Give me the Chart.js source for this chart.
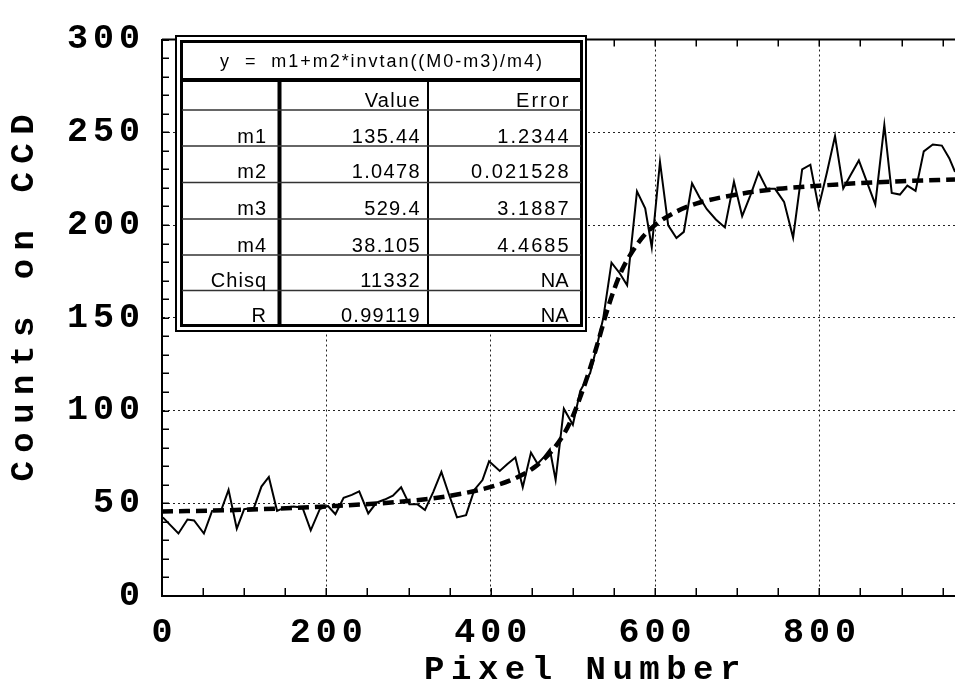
<!DOCTYPE html>
<html>
<head>
<meta charset="utf-8">
<script src="https://cdn.jsdelivr.net/npm/chart.js@4.4.1/dist/chart.umd.min.js"></script>
<style>
html,body{margin:0;padding:0;background:#fff;}
canvas{display:block;}
</style>
</head>
<body>
<canvas id="c" width="955" height="691" style="width:955px;height:691px"></canvas>
<script>
// ---- data ----
const pixelX = [1,20,31,39,51,61,72,81,91,100,112,121,130,140,149,160,171,181,192,202,211,221,231,240,251,261,271,281,291,301,311,320,330,340,349,359,370,380,390,398,411,420,430,439,449,457,465,472,479,489,500,509,521,529,537,547,557,566,578,588,596,606,616,626,635,645,654,663,674,685,696,706,716,726,736,746,757,768,779,789,799,809,819,829,838,848,858,868,879,888,898,907,917,927,938,949,958,965];
const counts = [42.4,33.7,41.2,40.7,33.7,45.9,46.2,57.2,36.3,46.8,47.6,59,64.2,45.9,47.6,48.2,47.6,35.4,46.8,48.5,44.1,52.9,54.5,56.4,44.5,50.3,52,54.1,58.6,49.4,49.4,46.4,56,66.9,55,42.4,43.6,57.2,62.5,72.6,67.4,71,74.7,58.6,77.3,71.3,75,79,62.6,101,92.3,110.6,120.2,134.2,149.9,179.7,174,167.5,218.1,209,188,234,199.8,193,196.3,222.5,215,208.5,203,198.7,223.4,204.8,216,228.3,219.5,219.5,212.5,193.2,230,232.5,209.5,228,247.9,219.7,227,234.8,223,211.1,253.9,217.3,216.4,221.2,218.4,239.7,243.4,242.8,236,228.6];

const fitX = [0,100,200,300,350,400,430,455,475,490,500,510,520,530,540,550,560,570,585,600,625,650,700,750,800,850,900,965];
const fitY = [45.5,46.5,48.3,51.2,54,58.8,63.5,70,78.5,88,97,108.5,121.5,136,151.5,165,176,184,193.5,200,207,211.5,216.5,219.5,221.2,222.6,223.6,224.5];

const xTickValues = [0,200,400,600,800];
const yTickValues = [0,50,100,150,200,250,300];
const xMinorStep = 50;
const yMinorStep = 10;
const xTitle = 'Pixel Number';
const yTitle = 'Counts on CCD';

const fitEquation = 'y  =  m1+m2*invtan((M0-m3)/m4)';
const tableHeader = ['', 'Value', 'Error'];
const paramNames = ['m1','m2','m3','m4','Chisq','R'];
const paramValues = ['135.44','1.0478','529.4','38.105','11332','0.99119'];
const paramErrors = ['1.2344','0.021528','3.1887','4.4685','NA','NA'];

// ---- helpers ----
function patchScale(scale, tickSp, titleSp, off) {
  if (scale._lsPatched) return;
  scale._lsPatched = true;
  const dl = scale.drawLabels, dt = scale.drawTitle;
  scale.drawLabels = function (a) {
    const c = this.ctx; c.save(); c.letterSpacing = tickSp + 'px';
    c.translate(off.lx, off.ly); dl.call(this, a); c.restore();
  };
  scale.drawTitle = function (a) {
    const c = this.ctx; c.save(); c.letterSpacing = titleSp + 'px';
    c.translate(off.tx, off.ty); dt.call(this, a); c.restore();
  };
}

const spacingPlugin = {
  id: 'spacing',
  beforeDraw(chart) {
    patchScale(chart.scales.x, 5, 6.5, {lx: 2.5, ly: 0, tx: 27, ty: 0});
    patchScale(chart.scales.y, 5, 8.5, {lx: 5, ly: 0, tx: 0, ty: -24});
  }
};

function seg(ctx, x1, y1, x2, y2) { ctx.beginPath(); ctx.moveTo(x1, y1); ctx.lineTo(x2, y2); ctx.stroke(); }

const framePlugin = {
  id: 'frame',
  afterDatasetsDraw(chart) {
    const {ctx, chartArea: a, scales: {x, y}} = chart;
    ctx.save();
    ctx.strokeStyle = '#000';
    ctx.lineWidth = 2;
    seg(ctx, a.left, a.top, a.right, a.top);
    ctx.lineWidth = 1.5;
    for (let v = y.min; v <= y.max; v += yMinorStep) {
      const py = Math.round(y.getPixelForValue(v)) + 0.25;
      seg(ctx, a.left, py, a.left + 7, py);
    }
    for (let v = x.min; v <= x.max; v += xMinorStep) {
      const px = Math.round(x.getPixelForValue(v)) + 0.25;
      seg(ctx, px, a.bottom, px, a.bottom - 8);
      seg(ctx, px, a.top, px, a.top + 7);
    }
    ctx.restore();
  }
};

function spacedText(ctx, text, x, y, sp, align) {
  ctx.letterSpacing = sp + 'px';
  ctx.textAlign = align;
  ctx.fillText(text, align === 'right' ? x + sp : x, y);
}

const tablePlugin = {
  id: 'fitTable',
  afterDraw(chart) {
    const ctx = chart.ctx;
    ctx.save();
    ctx.fillStyle = '#fff';
    ctx.fillRect(175, 35, 412, 298);
    ctx.strokeStyle = '#000';
    ctx.lineWidth = 2;
    ctx.strokeRect(176, 36, 410, 295);
    ctx.lineWidth = 3;
    ctx.strokeRect(181.5, 41.5, 400, 284);
    ctx.lineWidth = 4;
    seg(ctx, 181, 80, 582, 80);
    seg(ctx, 279.5, 80, 279.5, 326);
    ctx.lineWidth = 2;
    seg(ctx, 428, 80, 428, 326);
    ctx.strokeStyle = '#333';
    ctx.lineWidth = 1.5;
    [110, 146, 182.5, 219, 255, 290.5].forEach(yy => seg(ctx, 182, yy, 581, yy));

    ctx.fillStyle = '#000';
    ctx.textBaseline = 'alphabetic';
    // equation header fitted between x=220 and x=542
    ctx.font = '18px "Liberation Sans", Arial, sans-serif';
    ctx.letterSpacing = '0px';
    const nat = ctx.measureText(fitEquation).width;
    const hsp = (322 - nat) / (fitEquation.length - 1);
    spacedText(ctx, fitEquation, 220, 67, hsp, 'left');

    ctx.font = '20px "Liberation Sans", Arial, sans-serif';
    const colRight = [266, 419.5, 568.5];
    const colSp = [1, 1.3, 2];
    const baselines = [107.3, 142.7, 178.3, 215, 251.7, 286.7, 322.3];
    tableHeader.forEach((t, i) => { if (t) spacedText(ctx, t, colRight[i], baselines[0], colSp[i], 'right'); });
    paramNames.forEach((n, r) => {
      const b = baselines[r + 1];
      spacedText(ctx, n, colRight[0], b, colSp[0], 'right');
      spacedText(ctx, paramValues[r], colRight[1], b, colSp[1], 'right');
      spacedText(ctx, paramErrors[r], colRight[2], b, paramErrors[r] === 'NA' ? 0 : colSp[2], 'right');
    });
    ctx.restore();
  }
};

const monoBold = (size) => ({family: '"Liberation Mono", "DejaVu Sans Mono", monospace', weight: 'bold', size: size, lineHeight: 1});

new Chart(document.getElementById('c'), {
  type: 'line',
  data: {
    datasets: [
      {
        label: 'fit',
        data: fitX.map((x, i) => ({x: x, y: fitY[i]})),
        borderColor: '#000',
        borderWidth: 4.5,
        borderDash: [11, 6],
        pointRadius: 0,
        cubicInterpolationMode: 'monotone',
        fill: false
      },
      {
        label: 'counts',
        data: pixelX.map((x, i) => ({x: x, y: counts[i]})),
        borderColor: '#000',
        borderWidth: 2,
        pointRadius: 0,
        tension: 0,
        borderJoinStyle: 'miter',
        fill: false
      }
    ]
  },
  options: {
    responsive: false,
    animation: false,
    devicePixelRatio: 1,
    layout: {padding: {top: 24, left: 0, right: 0, bottom: 0}},
    plugins: {legend: {display: false}, tooltip: {enabled: false}},
    scales: {
      x: {
        type: 'linear', min: 0, max: 965,
        afterBuildTicks: s => { s.ticks = xTickValues.map(v => ({value: v})); },
        afterFit: s => { s.height = 95; },
        ticks: {autoSkip: false, maxRotation: 0, padding: 20, color: '#000', font: monoBold(35)},
        grid: {color: c => (c.tick && c.tick.value === 0) ? 'rgba(0,0,0,0)' : '#222', lineWidth: 1, drawTicks: false},
        border: {display: true, color: '#000', width: 2, dash: [2, 3]},
        title: {display: true, text: xTitle, color: '#000', font: monoBold(34), padding: {top: 0, bottom: 4}}
      },
      y: {
        type: 'linear', min: 0, max: 300,
        afterBuildTicks: s => { s.ticks = yTickValues.map(v => ({value: v})); },
        afterFit: s => { s.width = 162; },
        ticks: {autoSkip: false, padding: 22, color: '#000', font: monoBold(35)},
        grid: {color: c => (c.tick && (c.tick.value === 0 || c.tick.value === 300)) ? 'rgba(0,0,0,0)' : '#222', lineWidth: 1, drawTicks: false},
        border: {display: true, color: '#000', width: 2, dash: [2, 3]},
        title: {display: true, text: yTitle, color: '#000', font: monoBold(34), padding: {top: 7, bottom: 0}}
      }
    }
  },
  plugins: [spacingPlugin, framePlugin, tablePlugin]
});
</script>
</body>
</html>
